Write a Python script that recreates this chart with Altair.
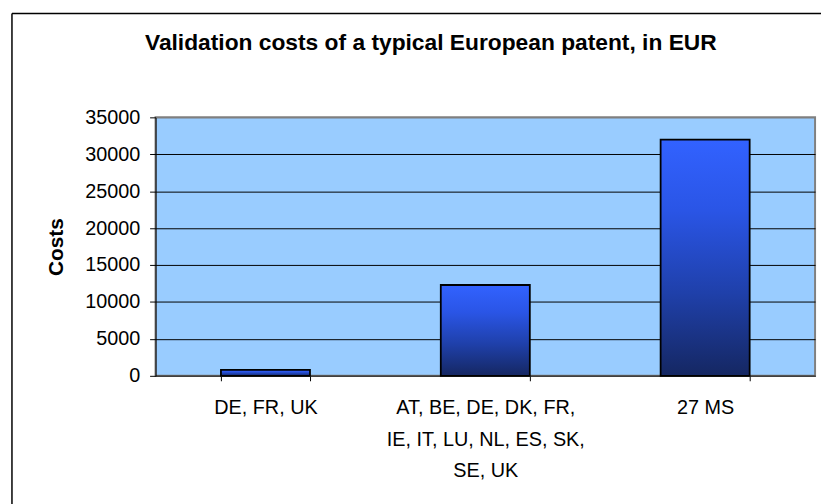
import altair as alt
import pandas as pd

categories = [
    "DE, FR, UK",
    "AT, BE, DE, DK, FR,\nIE, IT, LU, NL, ES, SK,\nSE, UK",
    "27 MS",
]
costs = [800, 12300, 32000]
y_ticks = [0, 5000, 10000, 15000, 20000, 25000, 30000, 35000]

title_text = "Validation costs of a typical European patent, in EUR"
y_title = "Costs"

df = pd.DataFrame({"group": categories, "cost": costs})
frame_df = pd.DataFrame({"k": [0]})

FONT = "Liberation Sans"
W, H = 666, 261

gradient = alt.Gradient(
    gradient="linear",
    stops=[
        alt.GradientStop(color="#3262FF", offset=0),
        alt.GradientStop(color="#2A55E6", offset=0.3),
        alt.GradientStop(color="#1F40AA", offset=0.65),
        alt.GradientStop(color="#152762", offset=1),
    ],
    x1=0, x2=0, y1=0, y2=1,
)

bars = alt.Chart(df).mark_bar(
    color=gradient, stroke="black", strokeWidth=1.8
).encode(
    x=alt.X(
        "group:N",
        sort=categories,
        title=None,
        scale=alt.Scale(paddingInner=0.595, paddingOuter=0.2975),
        axis=alt.Axis(
            labelAngle=0,
            labelExpr="split(datum.label, '\\n')",
            labelFont=FONT,
            labelFontSize=20,
            labelColor="black",
            labelLineHeight=32,
            labelPadding=17,
            labelBaseline="top",
            labelLimit=0,
            tickBand="extent",
            tickSize=5,
            tickColor="black",
            domainColor="#404040",
            domainWidth=1.5,
            grid=False,
        ),
    ),
    y=alt.Y(
        "cost:Q",
        title=y_title,
        scale=alt.Scale(domain=[0, 35000], nice=False),
        axis=alt.Axis(
            values=y_ticks,
            format="d",
            labelFont=FONT,
            labelFontSize=20,
            labelColor="black",
            labelPadding=10,
            tickSize=6,
            tickColor="black",
            domainColor="black",
            grid=True,
            gridColor={
                "condition": {"test": "datum.value == 35000", "value": "#808080"},
                "value": "black",
            },
            gridWidth=1,
            titleFont=FONT,
            titleFontSize=21,
            titleFontWeight="bold",
            titleColor="black",
            titleAngle=-90,
            titleAlign="center",
            titleBaseline="alphabetic",
            titleX=-94,
            titleY=H / 2,
        ),
    ),
)

frame_left = alt.Chart(frame_df).mark_rule(color="black", strokeWidth=1.5).encode(
    x=alt.value(-145), y=alt.value(-105), y2=alt.value(H + 200)
)
frame_top = alt.Chart(frame_df).mark_rule(color="black", strokeWidth=1.5).encode(
    x=alt.value(-145), x2=alt.value(W + 100), y=alt.value(-105)
)

chart = alt.layer(bars, frame_left, frame_top).properties(
    width=W,
    height=H,
    background="white",
    autosize=alt.AutoSizeParams(type="none"),
    padding={"left": 149, "top": 108, "right": 6, "bottom": 127},
    title=alt.TitleParams(
        title_text,
        font=FONT,
        fontSize=23,
        fontWeight="bold",
        color="black",
        anchor="middle",
        frame="group",
        dx=-55,
        baseline="alphabetic",
        offset=-61,
    ),
).configure_view(
    fill="#99CCFF", stroke="#808080", strokeWidth=2
)

chart.save("out.html", embed_options={"renderer": "svg", "actions": False})
